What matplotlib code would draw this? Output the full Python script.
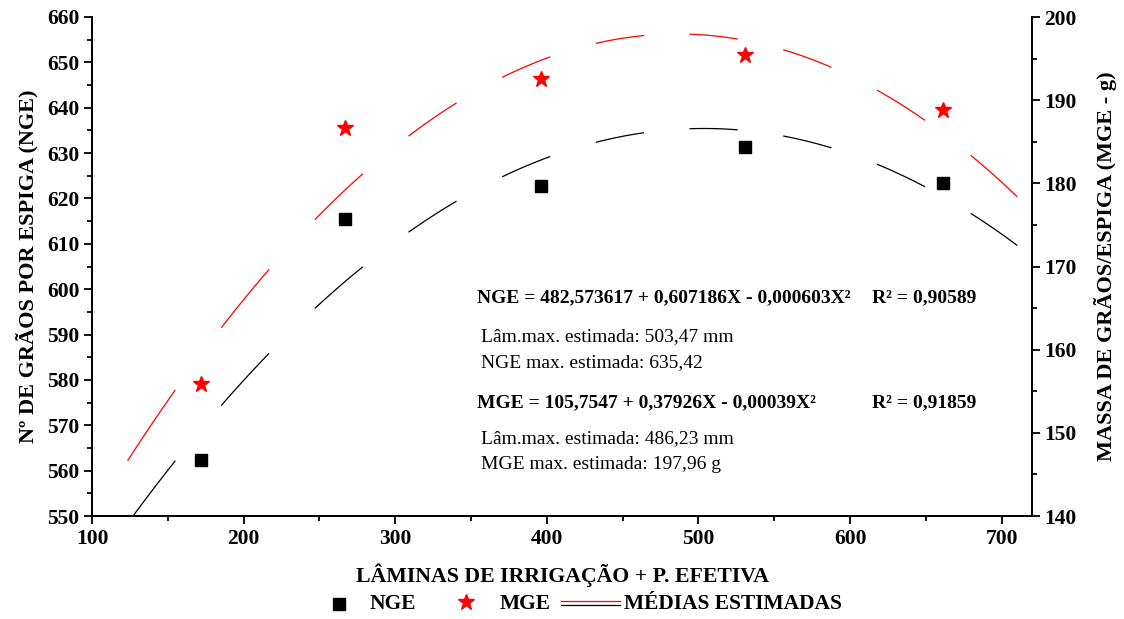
import matplotlib
matplotlib.use("Agg")
import matplotlib.pyplot as plt
from matplotlib.lines import Line2D
from matplotlib.ticker import MultipleLocator
import numpy as np

plt.rcParams['font.family'] = ['Liberation Serif', 'DejaVu Serif']
plt.rcParams['font.weight'] = 'bold'

# data
laminas = [172, 267, 396, 531, 661]
nge = [562.3, 615.4, 622.7, 631.4, 623.3]
mge = [155.9, 186.6, 192.5, 195.4, 188.8]

# regression coefficients shown on the chart (c0, c1, c2)
coef_nge = [482.573617, 0.607186, -0.000603]
coef_mge = [105.7547, 0.37926, -0.00039]
x_fit_range = [123.7, 710]

fig = plt.figure(figsize=(11.24, 6.19), dpi=100)
ax = fig.add_axes([92/1124, 1-516/619, 940/1124, 499/619])
ax2 = ax.twinx()

# dashed curves: dashes sit on the same x ranges for both curves
period, dash = 61.8, 31
for s in np.arange(x_fit_range[0], x_fit_range[1] - 1, period):
    xs = np.linspace(s, min(s + dash, x_fit_range[1]), 40)
    ax.plot(xs, np.polyval(coef_nge[::-1], xs), color='black', lw=0.9)
    ax2.plot(xs, np.polyval(coef_mge[::-1], xs), color='red', lw=0.9)

ax.plot(laminas, nge, 's', color='black', ms=8.5, ls='none', zorder=5)
ax2.plot(laminas, mge, '*', color='red', ms=12, ls='none', zorder=5)

ax.set_xlim(100, 720)
ax.set_ylim(550, 660)
ax2.set_ylim(140, 200)

ax.xaxis.set_major_locator(MultipleLocator(100))
ax.xaxis.set_minor_locator(MultipleLocator(50))
ax.yaxis.set_major_locator(MultipleLocator(10))
ax.yaxis.set_minor_locator(MultipleLocator(5))
ax2.yaxis.set_major_locator(MultipleLocator(10))
ax2.yaxis.set_minor_locator(MultipleLocator(5))

for a in (ax, ax2):
    a.spines['top'].set_visible(False)
    for s in a.spines.values():
        s.set_linewidth(1.3)
    a.tick_params(which='major', direction='out', length=6, width=1.3, labelsize=15.5, pad=3)
    a.tick_params(which='minor', direction='out', length=3.5, width=1.3)
ax.tick_params(axis='x', which='both', top=False)

ax.set_xlabel('LÂMINAS DE IRRIGAÇÃO + P. EFETIVA', fontsize=15.7, fontweight='bold', labelpad=11)
ax.set_ylabel('Nº DE GRÃOS POR ESPIGA (NGE)', fontsize=16, fontweight='bold', labelpad=6)
ax2.set_ylabel('MASSA DE GRÃOS/ESPIGA (MGE - g)', fontsize=16, fontweight='bold', labelpad=12)

ax.text(0.4096, 0.437, 'NGE = 482,573617 + 0,607186X - 0,000603X²', transform=ax.transAxes,
        fontsize=14, fontweight='bold', va='center')
ax.text(0.830, 0.437, 'R² = 0,90589', transform=ax.transAxes, fontsize=14, fontweight='bold', va='center')
ax.text(0.414, 0.359, 'Lâm.max. estimada: 503,47 mm', transform=ax.transAxes,
        fontsize=14, fontweight='normal', va='center')
ax.text(0.414, 0.307, 'NGE max. estimada: 635,42', transform=ax.transAxes,
        fontsize=14, fontweight='normal', va='center')
ax.text(0.4096, 0.226, 'MGE = 105,7547 + 0,37926X - 0,00039X²', transform=ax.transAxes,
        fontsize=14, fontweight='bold', va='center')
ax.text(0.830, 0.226, 'R² = 0,91859', transform=ax.transAxes, fontsize=14, fontweight='bold', va='center')
ax.text(0.414, 0.156, 'Lâm.max. estimada: 486,23 mm', transform=ax.transAxes,
        fontsize=14, fontweight='normal', va='center')
ax.text(0.414, 0.104, 'MGE max. estimada: 197,96 g', transform=ax.transAxes,
        fontsize=14, fontweight='normal', va='center')

# legend at the bottom
def fx(px):
    return px / 1124

def fy(py):
    return 1 - py / 619

fig.add_artist(Line2D([fx(339)], [fy(604)], marker='s', color='black', ms=8.5, ls='none'))
fig.text(fx(370), fy(604), 'NGE', fontsize=15.5, fontweight='bold', va='center')
fig.add_artist(Line2D([fx(466)], [fy(602)], marker='*', color='red', ms=12, ls='none'))
fig.text(fx(500), fy(604), 'MGE', fontsize=15.5, fontweight='bold', va='center')
fig.add_artist(Line2D([fx(561), fx(620)], [fy(601), fy(601)], color='red', lw=0.9))
fig.add_artist(Line2D([fx(561), fx(620)], [fy(604.5), fy(604.5)], color='black', lw=0.9))
fig.text(fx(624), fy(604), 'MÉDIAS ESTIMADAS', fontsize=15.5, fontweight='bold', va='center')

fig.savefig('out.png', dpi=100)
